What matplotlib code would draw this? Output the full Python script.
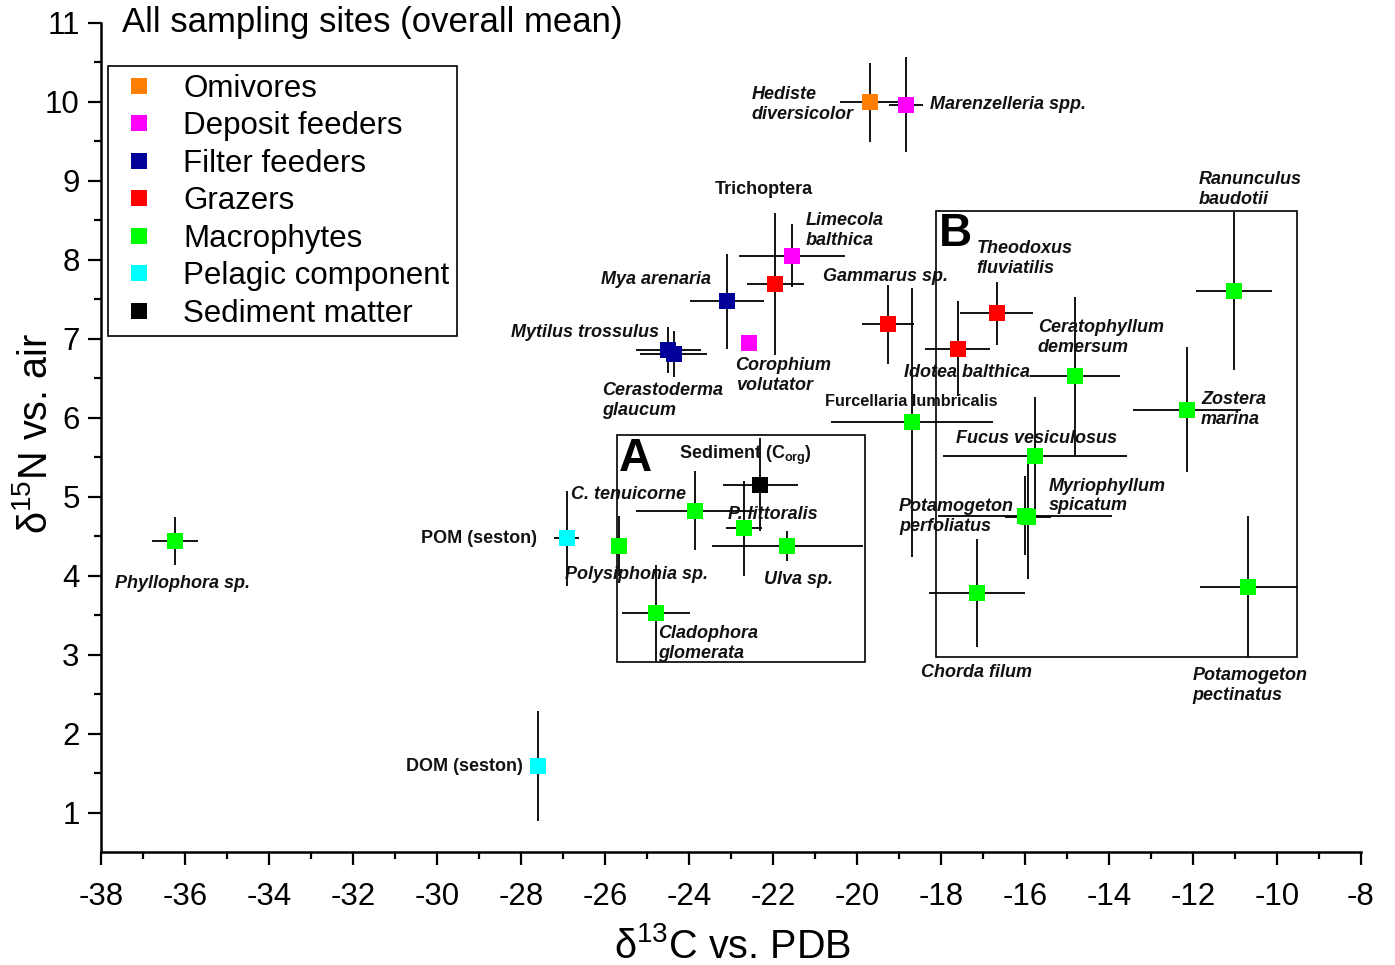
import numpy as np
import matplotlib
matplotlib.use("Agg")
import matplotlib.pyplot as plt
from matplotlib.lines import Line2D
from matplotlib.patches import Rectangle

plt.rcParams['font.family'] = ['Liberation Sans', 'DejaVu Sans']
plt.rcParams['axes.unicode_minus'] = False

# feeding groups and colours
group_names = ['Omivores', 'Deposit feeders', 'Filter feeders', 'Grazers',
               'Macrophytes', 'Pelagic component', 'Sediment matter']
group_colors = ['#FF8000', '#FF00FF', '#000099', '#FF0000',
                '#00FF00', '#00FFFF', '#000000']

# samples: name, group, d13C, d15N, xerr, yerr
names = ['Hediste\ndiversicolor', 'Marenzelleria spp.', 'Trichoptera',
         'Limecola\nbalthica', 'Mya arenaria', 'Mytilus trossulus',
         'Cerastoderma\nglaucum', 'Corophium\nvolutator', 'Gammarus sp.',
         'Theodoxus\nfluviatilis', 'Idotea balthica', 'Ceratophyllum\ndemersum',
         'Ranunculus\nbaudotii', 'Zostera\nmarina', 'Furcellaria lumbricalis',
         'Fucus vesiculosus', 'Myriophyllum\nspicatum', 'Potamogeton\nperfoliatus',
         'Chorda filum', 'Potamogeton\npectinatus', r'Sediment (C$_{\mathregular{org}}$)',
         'C. tenuicorne', 'P. littoralis', 'Ulva sp.', 'Polysiphonia sp.',
         'Cladophora\nglomerata', 'POM (seston)', 'Phyllophora sp.', 'DOM (seston)']
groups = [0, 1, 3, 1, 2, 2, 2, 1, 3, 3, 3, 4, 4, 4, 4, 4, 4, 4, 4, 4, 6,
          4, 4, 4, 4, 4, 5, 4, 5]
d13C = [-19.70, -18.83, -21.94, -21.55, -23.10, -24.49, -24.36, -22.58, -19.26,
        -16.67, -17.60, -14.81, -11.02, -12.14, -18.68, -15.76, -15.92, -16.00,
        -17.14, -10.68, -22.30, -23.86, -22.68, -21.66, -25.67, -24.79, -26.91,
        -36.24, -27.60]
d15N = [9.99, 9.96, 7.69, 8.05, 7.47, 6.86, 6.81, 6.95, 7.18,
        7.32, 6.87, 6.53, 7.60, 6.10, 5.94, 5.51, 4.74, 4.76,
        3.78, 3.86, 5.15, 4.82, 4.60, 4.37, 4.37, 3.52, 4.47,
        4.44, 1.59]
d13C_err = [0.71, 0.40, 0.67, 1.26, 0.88, 0.77, 0.80, 0.0, 0.61,
            0.87, 0.77, 1.07, 0.90, 1.28, 1.93, 2.20, 0.55, 2.08,
            1.15, 1.15, 0.89, 1.40, 0.43, 1.80, 0.05, 0.81, 0.30,
            0.55, 0.0]
d15N_err = [0.50, 0.60, 0.90, 0.40, 0.60, 0.29, 0.29, 0.0, 0.50,
            0.40, 0.60, 1.00, 1.00, 0.79, 1.70, 0.75, 0.78, 0.50,
            0.68, 0.89, 0.59, 0.50, 0.60, 0.19, 0.38, 0.61, 0.60,
            0.30, 0.70]

# label offsets from the marker (pixels), italic flag and font size
label_dx = [-118, 24, -61, 14, -126, -157, -72, -13, -65, -20, -54, -37, -35, 14,
            -87, -79, 20, -126, -56, -56, -81, -124, -16, -23, -54, 2, -146, -60, -132]
label_dy = [-2, 0, 95, 25, 22, 17, -47, -33, 48, 55, -24, 38, 102, 0,
            21, 18, 21, -1, -80, -99, 29, 16, 14, -33, -28, -30, 0, -43, -1]
italic = [True, True, False, True, True, True, True, True, True, True, True, True,
          True, True, False, True, True, True, True, True, False, True, True, True,
          True, True, False, True, False]
label_size = [13] * 14 + [11.7] + [13] * 14

# boxes A and B (x0, x1, y0, y1)
box_names = ['A', 'B']
box_x0 = [-25.71, -18.12]
box_x1 = [-19.81, -9.52]
box_y0 = [2.90, 2.97]
box_y1 = [5.78, 8.62]

fig = plt.figure(figsize=(13.95, 9.65), dpi=100)
ax = fig.add_axes([0.0724, 0.1171, 0.9032, 0.8594])

ax.errorbar(d13C, d15N, xerr=d13C_err, yerr=d15N_err, fmt='none',
            ecolor='black', elinewidth=1.3, capsize=0, zorder=2)
x = np.array(d13C)
y = np.array(d15N)
g = np.array(groups)
for i, c in enumerate(group_colors):
    m = g == i
    ax.plot(x[m], y[m], 's', color=c, markersize=11.5, markeredgewidth=0, zorder=3)

for i, n in enumerate(names):
    ax.annotate(n, (d13C[i], d15N[i]), xytext=(label_dx[i], label_dy[i]),
                textcoords='offset pixels', ha='left', va='center',
                fontsize=label_size[i], fontweight='bold',
                fontstyle='italic' if italic[i] else 'normal',
                linespacing=1.2, color='#111111', zorder=4)

for i, b in enumerate(box_names):
    ax.add_patch(Rectangle((box_x0[i], box_y0[i]), box_x1[i] - box_x0[i],
                           box_y1[i] - box_y0[i], fill=False, edgecolor='black',
                           lw=1.2, zorder=1))
ax.text(-25.66, 5.47, 'A', fontsize=33, fontweight='bold', ha='left', va='center')
ax.text(-18.06, 8.33, 'B', fontsize=33, fontweight='bold', ha='left', va='center')

ax.set_xlim(-38, -8)
ax.set_ylim(0.5, 11)
ax.set_xticks(np.arange(-38, -7, 2))
ax.set_xticks(np.arange(-37, -8, 2), minor=True)
ax.set_yticks(np.arange(1, 12, 1))
ax.set_yticks(np.arange(1.5, 11, 1), minor=True)
for s in ['top', 'right']:
    ax.spines[s].set_visible(False)
for s in ['left', 'bottom']:
    ax.spines[s].set_linewidth(1.8)
ax.tick_params(which='major', direction='out', length=9.4, width=1.6, labelsize=22.5)
ax.tick_params(which='minor', direction='out', length=5, width=1.6)
ax.tick_params(axis='x', pad=12)
ax.tick_params(axis='y', pad=6)

ax.set_xlabel(r'δ$^{\mathregular{13}}$C vs. PDB', fontsize=28.5)
ax.set_ylabel(r'δ$^{\mathregular{15}}$N vs. air', fontsize=28.5)
ax.xaxis.set_label_coords(0.5016, -0.09)
ax.yaxis.set_label_coords(-0.0365, 0.505)

ax.text(0.0167, 1.0, 'All sampling sites (overall mean)', transform=ax.transAxes,
        fontsize=25, ha='left', va='center')

handles = [Line2D([], [], marker='s', linestyle='none', color=c, markersize=11.5,
                  markeredgewidth=0) for c in group_colors]
leg = ax.legend(handles, group_names, loc='upper left', bbox_to_anchor=(0.0056, 0.948),
                fontsize=22.5, frameon=True, fancybox=False, framealpha=1,
                edgecolor='black', borderpad=0.25, handlelength=1.5,
                handletextpad=0.66, labelspacing=0.24, borderaxespad=0)
leg.get_frame().set_linewidth(1.2)

plt.savefig('out.png', dpi=100)
